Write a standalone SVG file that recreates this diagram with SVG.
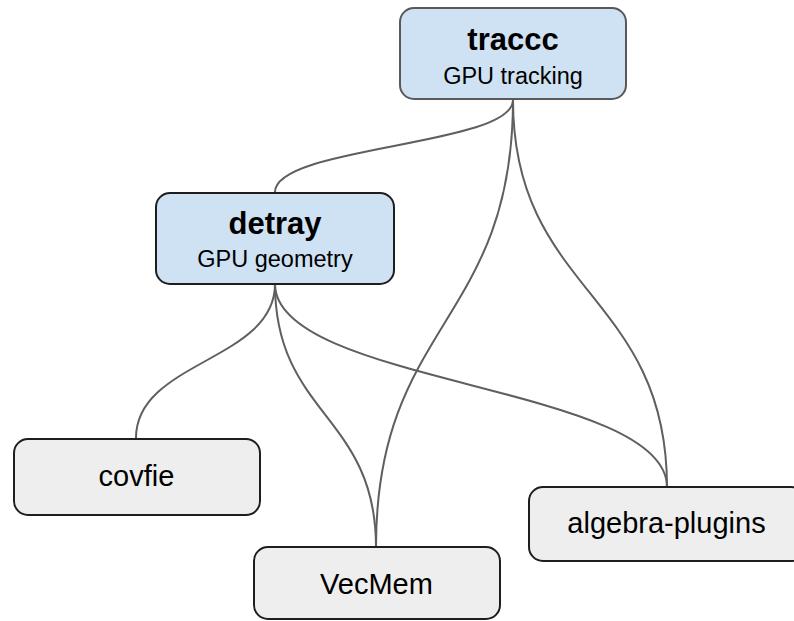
<svg xmlns="http://www.w3.org/2000/svg" width="794" height="621" viewBox="0 0 794 621">
<style>
.blue{fill:#cfe2f3;stroke:#1e1e1e;stroke-width:2}
.grey{fill:#eeeeee;stroke:#1e1e1e;stroke-width:2}
.edge{fill:none;stroke:#5f5f5f;stroke-width:2}
.t{font-family:"Liberation Sans",Arial,sans-serif;fill:#000;text-anchor:middle}
.title{font-size:31px;font-weight:bold}
.sub{font-size:23.5px}
.lbl{font-size:29px}
</style>
<rect width="794" height="621" fill="#fff"/>
<g id="connectors">
<path class="edge" d="M513,100 C513,146 275,146 275,192"/>
<path class="edge" d="M513,100 C513,323 376,323 376,547"/>
<path class="edge" d="M513,100 C513,293 667,293 667,487"/>
<path class="edge" d="M275,284 C275,361 136,361 136,438"/>
<path class="edge" d="M275,284 C275,415 376,415 376,547"/>
<path class="edge" d="M275,284 C275,385 667,385 667,487"/>
</g>
<g id="traccc">
<rect class="blue" x="400" y="8" width="226" height="91" rx="14" style="stroke:#595959"/>
<text class="t title" x="513" y="50">traccc</text>
<text class="t sub" x="513" y="84">GPU tracking</text>
</g>
<g id="detray">
<rect class="blue" x="156" y="193" width="238" height="91" rx="14"/>
<text class="t title" x="275" y="234">detray</text>
<text class="t sub" x="275" y="267">GPU geometry</text>
</g>
<g id="covfie">
<rect class="grey" x="14" y="439" width="246" height="76" rx="14"/>
<text class="t lbl" x="136.5" y="486">covfie</text>
</g>
<g id="vecmem">
<rect class="grey" x="254" y="547" width="246" height="72" rx="14"/>
<text class="t lbl" x="376.5" y="594">VecMem</text>
</g>
<g id="algebra-plugins">
<rect class="grey" x="529" y="487" width="276" height="74" rx="14"/>
<text class="t lbl" x="666.5" y="533">algebra-plugins</text>
</g>
</svg>
